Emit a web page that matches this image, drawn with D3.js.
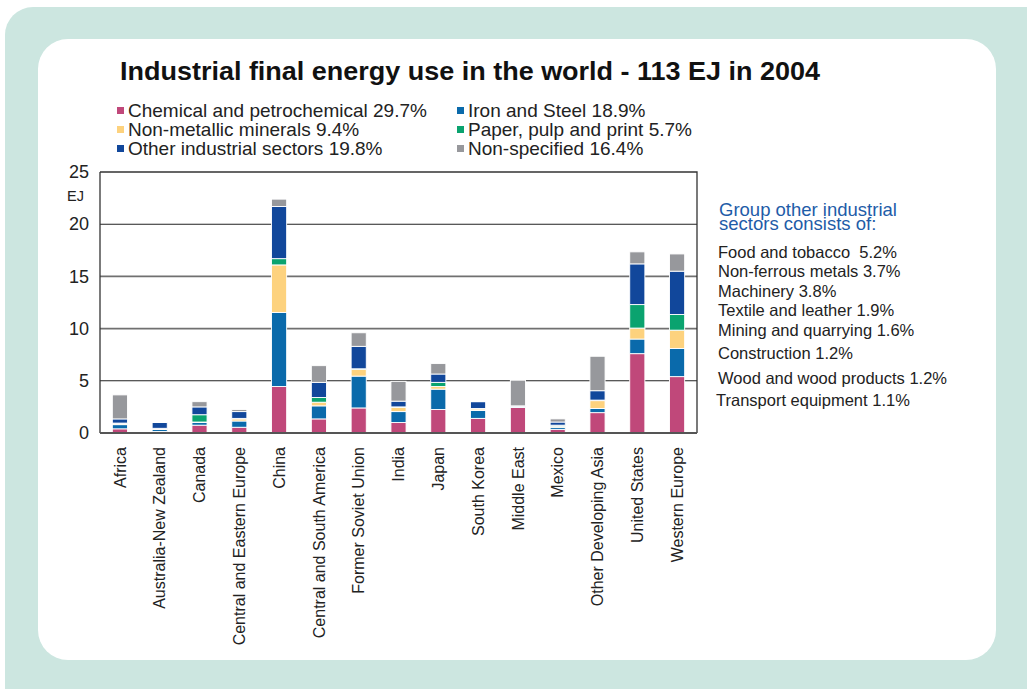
<!DOCTYPE html>
<html>
<head>
<meta charset="utf-8">
<script src="https://cdn.jsdelivr.net/npm/d3@7/dist/d3.min.js"></script>
<style>
  body { margin: 0; background: #fff; }
  text { font-family: "Liberation Sans", Arial, sans-serif; }
</style>
</head>
<body>
<div id="chart"></div>
<script>
// values in EJ
const regions = ["Africa", "Australia-New Zealand", "Canada", "Central and Eastern Europe", "China",
    "Central and South America", "Former Soviet Union", "India", "Japan", "South Korea",
    "Middle East", "Mexico", "Other Developing Asia", "United States", "Western Europe"];
const chemical     = [0.4, 0.15, 0.75, 0.55, 4.45, 1.35, 2.4, 1.0, 2.25, 1.4, 2.45, 0.35, 1.95, 7.6, 5.4];
const ironSteel    = [0.4, 0.2, 0.25, 0.6, 7.1, 1.25, 3.05, 1.05, 1.95, 0.75, 0.05, 0.2, 0.4, 1.4, 2.7];
const nonMetallic  = [0.1, 0.05, 0.05, 0.2, 4.55, 0.35, 0.65, 0.4, 0.25, 0.15, 0.05, 0.1, 0.75, 1.05, 1.75];
const paper        = [0.05, 0.05, 0.7, 0.05, 0.6, 0.45, 0.05, 0.05, 0.4, 0.05, 0, 0.1, 0.05, 2.25, 1.5];
const otherSectors = [0.4, 0.55, 0.75, 0.65, 5.0, 1.45, 2.15, 0.55, 0.8, 0.65, 0.05, 0.3, 0.9, 3.9, 4.15];
const nonSpecified = [2.3, 0.05, 0.5, 0.2, 0.7, 1.6, 1.3, 1.9, 1.0, 0.05, 2.45, 0.3, 3.3, 1.15, 1.65];

const seriesKeys = ["chemical", "ironSteel", "nonMetallic", "paper", "otherSectors", "nonSpecified"];
const seriesLabels = ["Chemical and petrochemical 29.7%", "Iron and Steel 18.9%", "Non-metallic minerals 9.4%",
    "Paper, pulp and print 5.7%", "Other industrial sectors 19.8%", "Non-specified 16.4%"];
const seriesColors = ["#c0487a", "#0a6aab", "#fdd27e", "#0aa36f", "#11479b", "#97989c"];
const yTicks = [0, 5, 10, 15, 20, 25];

const otherTitle = ["Group other industrial", "sectors consists of:"];
const otherItems = ["Food and tobacco  5.2%", "Non-ferrous metals 3.7%", "Machinery 3.8%", "Textile and leather 1.9%",
    "Mining and quarrying 1.6%", "Construction 1.2%", "Wood and wood products 1.2%", "Transport equipment 1.1%"];

const width = 1027, height = 689;
const svg = d3.select("#chart").append("svg")
    .attr("width", width).attr("height", height);

// teal frame and white card
svg.append("rect").attr("x", 5).attr("y", 7).attr("width", 1060).attr("height", 720)
    .attr("rx", 28).attr("fill", "#cce6e0");
svg.append("rect").attr("x", 38).attr("y", 39).attr("width", 958).attr("height", 621)
    .attr("rx", 30).attr("fill", "#fff");

svg.append("text").attr("x", 120).attr("y", 80)
    .attr("textLength", 700).attr("lengthAdjust", "spacingAndGlyphs")
    .style("font-size", "25px").style("font-weight", "bold").attr("fill", "#111")
    .text("Industrial final energy use in the world - 113 EJ in 2004");

// legend, two columns, filled row by row
const legend = svg.append("g");
seriesLabels.forEach((lab, i) => {
    const col = i % 2, row = Math.floor(i / 2);
    const g = legend.append("g").attr("transform", `translate(${col ? 457 : 117},${117 + row * 19})`);
    g.append("rect").attr("x", 0).attr("y", -10).attr("width", 7).attr("height", 7).attr("fill", seriesColors[i]);
    g.append("text").attr("x", 11).attr("y", 0).style("font-size", "19px").attr("fill", "#222").text(lab);
});

const margin = { left: 100, right: 697, top: 172, bottom: 433 };
const x = d3.scaleBand().domain(regions).range([margin.left, margin.right]).paddingInner(0.62).paddingOuter(0.31);
const y = d3.scaleLinear().domain([0, 25]).range([margin.bottom, margin.top]);

// gridlines
svg.append("g").selectAll("line").data(yTicks.filter(d => d > 0 && d < 25)).join("line")
    .attr("x1", margin.left).attr("x2", margin.right)
    .attr("y1", d => y(d)).attr("y2", d => y(d))
    .attr("stroke", d => (d == 10 || d == 15) ? "#707070" : "#222")
    .attr("stroke-width", d => (d == 10 || d == 15) ? 1.6 : 1.1);

const table = regions.map((r, i) => ({
    region: r, chemical: chemical[i], ironSteel: ironSteel[i], nonMetallic: nonMetallic[i],
    paper: paper[i], otherSectors: otherSectors[i], nonSpecified: nonSpecified[i]
}));
const stacked = d3.stack().keys(seriesKeys)(table);

svg.append("g").selectAll("g").data(stacked).join("g")
    .attr("fill", (d, i) => seriesColors[i])
    .selectAll("rect").data(d => d).join("rect")
    .attr("x", d => x(d.data.region))
    .attr("width", x.bandwidth())
    .attr("y", d => y(d[1]))
    .attr("height", d => y(d[0]) - y(d[1]))
    .attr("stroke", "#fff").attr("stroke-width", 0.9);

// plot frame
svg.append("path")
    .attr("d", `M${margin.left},${margin.top}H${margin.right}V${margin.bottom}`)
    .attr("fill", "none").attr("stroke", "#333").attr("stroke-width", 1.3);
svg.append("line").attr("x1", margin.left).attr("x2", margin.left).attr("y1", margin.top).attr("y2", margin.bottom)
    .attr("stroke", "#333").attr("stroke-width", 1.3);
svg.append("line").attr("x1", margin.left).attr("x2", margin.right).attr("y1", margin.bottom).attr("y2", margin.bottom)
    .attr("stroke", "#555").attr("stroke-width", 2);

// y axis labels
const yAxis = svg.append("g").attr("transform", `translate(${margin.left},0)`)
    .call(d3.axisLeft(y).tickValues(yTicks).tickSize(0).tickPadding(11));
yAxis.select(".domain").remove();
yAxis.selectAll("text").style("font-size", "18px").attr("fill", "#222")
    .style("font-family", "'Liberation Sans', Arial, sans-serif");
svg.append("text").attr("x", 67).attr("y", 201).style("font-size", "14.5px").attr("fill", "#222").text("EJ");

// x axis labels, rotated
const xAxis = svg.append("g").attr("transform", `translate(0,${margin.bottom})`)
    .call(d3.axisBottom(x).tickSize(0).tickPadding(0));
xAxis.select(".domain").remove();
xAxis.selectAll("text")
    .attr("transform", "rotate(-90)")
    .attr("x", -14).attr("y", 0).attr("dy", "0.35em")
    .attr("text-anchor", "end")
    .style("font-size", "16px").attr("fill", "#222")
    .style("font-family", "'Liberation Sans', Arial, sans-serif");

// side panel
otherTitle.forEach((t, i) => {
    svg.append("text").attr("x", 719).attr("y", 216 + i * 14)
        .style("font-size", "18.5px").attr("fill", "#1e5ca8").text(t);
});
const itemY = [258, 277, 297, 316, 336, 359, 384, 406];
otherItems.forEach((t, i) => {
    svg.append("text").attr("x", i == 7 ? 716 : 718).attr("y", itemY[i])
        .style("font-size", "16.5px").style("white-space", "pre").attr("fill", "#222").text(t);
});
</script>
</body>
</html>
